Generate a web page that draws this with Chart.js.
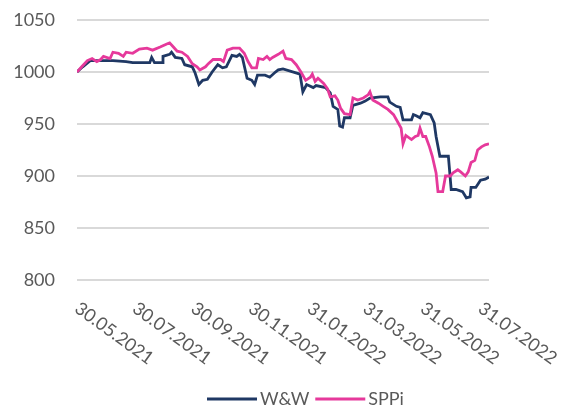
<!DOCTYPE html>
<html>
<head>
<meta charset="utf-8">
<script src="https://cdn.jsdelivr.net/npm/chart.js@4.4.1/dist/chart.umd.min.js"></script>
<style>
  html, body { margin: 0; padding: 0; background: #fff; overflow: hidden; }
  #wrap { width: 566px; height: 406px; position: relative; }
</style>
</head>
<body>
<div id="wrap"><canvas id="chart"></canvas></div>
<script>
// x values are days counted from 30.05.2021
var tickDays = [0, 61, 123, 184, 246, 305, 366, 427];
var tickLabels = ["30.05.2021", "30.07.2021", "30.09.2021", "30.11.2021",
                  "31.01.2022", "31.03.2022", "31.05.2022", "31.07.2022"];

var wwDays = [0, 6, 14, 38, 52, 59, 77, 79, 82, 90,
  91, 98, 100, 104, 111, 114, 122, 125, 129, 133,
  138, 143, 149, 154, 158, 164, 169, 172, 175, 180,
  185, 188, 191, 199, 204, 210, 213, 218, 236, 239,
  243, 250, 253, 263, 268, 271, 276, 278, 281, 283,
  289, 292, 300, 305, 310, 321, 329, 331, 338, 342,
  345, 354, 356, 359, 363, 366, 374, 378, 380, 384,
  387, 393, 396, 401, 408, 412, 416, 417, 422, 427,
  432, 436];
var wwValues = [1000, 1005, 1011, 1011, 1010, 1009, 1009, 1014, 1009, 1009,
  1015, 1017, 1019, 1014, 1013, 1007, 1005, 999, 988, 992,
  993, 1000, 1007, 1004, 1005, 1016, 1015, 1017, 1014, 994,
  992, 988, 997, 997, 995, 1000, 1002, 1003, 998, 981,
  988, 985, 987, 985, 980, 967, 964, 948, 947, 956,
  956, 968, 970, 972, 975, 976, 976, 971, 967, 966,
  954, 954, 959, 958, 956, 961, 959, 951, 938, 919,
  919, 919, 887, 887, 885, 879, 880, 889, 889, 896,
  897, 899];

var sppiDays = [0, 5, 11, 16, 21, 25, 28, 35, 38, 44,
  49, 52, 59, 66, 74, 80, 88, 95, 98, 102,
  106, 111, 117, 122, 127, 130, 136, 139, 144, 152,
  155, 159, 165, 172, 177, 181, 185, 190, 192, 197,
  201, 204, 207, 213, 218, 221, 227, 232, 237, 242,
  247, 249, 252, 255, 261, 265, 268, 273, 276, 279,
  283, 289, 292, 297, 303, 308, 310, 313, 319, 324,
  329, 335, 340, 343, 345, 348, 354, 358, 361, 363,
  366, 369, 373, 376, 380, 382, 387, 390, 395, 398,
  403, 406, 411, 414, 417, 421, 424, 428, 432, 436];
var sppiValues = [1000, 1005, 1011, 1013, 1010, 1012, 1015, 1013, 1019, 1018,
  1015, 1019, 1018, 1022, 1023, 1021, 1024, 1027, 1028, 1024,
  1020, 1019, 1015, 1008, 1005, 1002, 1005, 1008, 1012, 1012,
  1010, 1021, 1023, 1023, 1018, 1010, 1004, 1004, 1013, 1012,
  1015, 1012, 1014, 1017, 1020, 1013, 1012, 1007, 1000, 992,
  995, 998, 991, 994, 989, 984, 976, 977, 973, 965,
  960, 959, 975, 973, 975, 978, 981, 973, 970, 967,
  964, 959, 951, 946, 931, 939, 935, 938, 939, 946,
  938, 938, 928, 919, 903, 885, 885, 900, 900, 903,
  906, 904, 900, 904, 913, 915, 925, 928, 930, 931];

var seriesNames = ["W&W", "SPPi"];
var seriesColors = ["#1f3864", "#e6399b"];

var textColor = "#595959";
var fontName = "Lato";

function toPoints(days, values) {
  return days.map(function (d, i) { return { x: d, y: values[i] }; });
}

// rotated date labels and legend, drawn after the chart
var extrasPlugin = {
  id: "extras",
  afterDraw: function (chart) {
    var ctx = chart.ctx;
    var xs = chart.scales.x;
    ctx.save();
    ctx.font = "18px " + fontName;
    ctx.fillStyle = textColor;
    ctx.textAlign = "left";
    ctx.textBaseline = "alphabetic";
    tickDays.forEach(function (d, i) {
      var px = xs.getPixelForValue(d) - 3.5;
      ctx.save();
      ctx.translate(px, 311);
      ctx.rotate(36 * Math.PI / 180);
      ctx.fillText(tickLabels[i], 0, 0);
      ctx.restore();
    });

    // legend
    var x = 207, y = 399;
    ctx.textBaseline = "middle";
    seriesNames.forEach(function (name, i) {
      ctx.strokeStyle = seriesColors[i];
      ctx.lineWidth = 3;
      ctx.beginPath();
      ctx.moveTo(x, y);
      ctx.lineTo(x + 50, y);
      ctx.stroke();
      x += 53;
      ctx.fillText(name, x, y);
      x += ctx.measureText(name).width + 6;
    });
    ctx.restore();
  }
};

new Chart(document.getElementById("chart"), {
  type: "line",
  data: {
    datasets: [
      {
        label: seriesNames[0],
        data: toPoints(wwDays, wwValues),
        borderColor: seriesColors[0],
        backgroundColor: seriesColors[0],
        borderWidth: 2.8,
        pointRadius: 0,
        tension: 0,
        order: 1
      },
      {
        label: seriesNames[1],
        data: toPoints(sppiDays, sppiValues),
        borderColor: seriesColors[1],
        backgroundColor: seriesColors[1],
        borderWidth: 2.8,
        pointRadius: 0,
        tension: 0,
        order: 0
      }
    ]
  },
  options: {
    responsive: true,
    maintainAspectRatio: false,
    animation: false,
    devicePixelRatio: 1,
    layout: { padding: { top: 20, right: 77, bottom: 0, left: 0 } },
    plugins: {
      legend: { display: false },
      tooltip: { enabled: false }
    },
    scales: {
      x: {
        type: "linear",
        min: 0,
        max: 436,
        grid: { display: false },
        border: { display: false },
        ticks: { display: false },
        afterFit: function (s) { s.height = 126; }
      },
      y: {
        min: 800,
        max: 1050,
        ticks: {
          stepSize: 50,
          color: textColor,
          font: { family: fontName, size: 18 },
          padding: 22,
          callback: function (v) { return String(v); }
        },
        grid: { color: "#d9d9d9", lineWidth: 2, drawTicks: false },
        border: { display: false },
        afterFit: function (s) {
          s.width = 77;
          s.paddingTop = 0;
          s.paddingBottom = 0;
        }
      }
    }
  },
  plugins: [extrasPlugin]
});
</script>
</body>
</html>
